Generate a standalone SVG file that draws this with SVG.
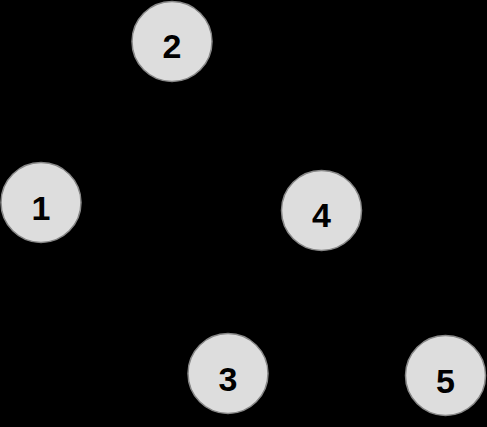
<svg xmlns="http://www.w3.org/2000/svg" width="487" height="427" viewBox="0 0 487 427">
<style>
.n circle{fill:#dddddd;stroke:#888888;stroke-width:1.5}
.n text{font-family:"Liberation Sans",Arial,sans-serif;font-weight:bold;font-size:34px;fill:#000;text-anchor:middle}
</style>
<rect width="487" height="427" fill="#000"/>
<g id="edges"></g>
<g id="node2" class="n"><circle cx="172" cy="41.5" r="40"/><text x="172" y="57.5">2</text></g>
<g id="node1" class="n"><circle cx="41" cy="202.5" r="40"/><text x="41" y="219.5">1</text></g>
<g id="node4" class="n"><circle cx="321.5" cy="210.5" r="40"/><text x="321.5" y="227">4</text></g>
<g id="node3" class="n"><circle cx="228" cy="373.5" r="40"/><text x="228" y="390.5">3</text></g>
<g id="node5" class="n"><circle cx="445.5" cy="375.5" r="40"/><text x="445.5" y="392.5">5</text></g>
</svg>
